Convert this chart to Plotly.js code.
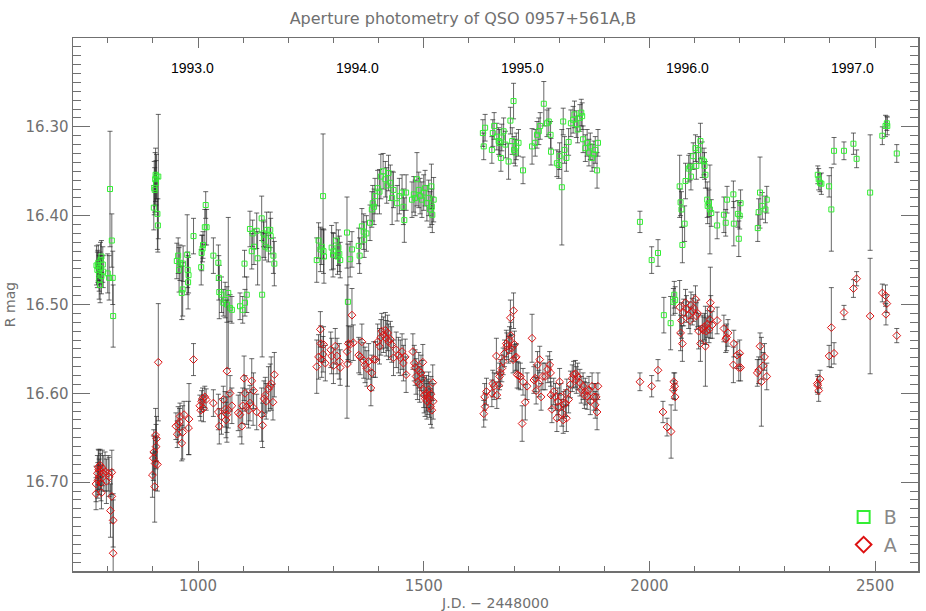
<!DOCTYPE html>
<html>
<head>
<meta charset="utf-8">
<script src="https://cdn.plot.ly/plotly-3.0.1.min.js"></script>
<style>
  body { margin: 0; background: #fff; }
  #plot { width: 926px; height: 611px; }
</style>
</head>
<body>
<div id="plot"></div>
<script>
// Image B: J.D. - 2448000, R mag, error
const bJd = [
  775, 777, 778, 779, 781, 781, 783, 783, 784, 786, 786, 789, 790, 800, 803, 805, 809, 811, 812,
  902, 903, 904, 905, 906, 907, 908, 910, 911, 912,
  953, 956, 958, 960, 964, 966, 967, 976, 977, 979, 978, 990, 1007, 1008, 1010, 1011, 1015, 1017, 1019,
  1034, 1045, 1046, 1047, 1052, 1056, 1060, 1064, 1067, 1071, 1075, 1093, 1099, 1104, 1103, 1108,
  1115, 1119, 1121, 1124, 1130, 1132, 1141, 1142, 1145, 1146, 1149, 1152, 1156, 1160, 1161, 1167, 1169,
  1263, 1267, 1271, 1274, 1277, 1278, 1279, 1296, 1299, 1300, 1306, 1309, 1311, 1313, 1315, 1330, 1332,
  1337, 1341, 1356, 1358, 1363, 1367, 1368, 1373, 1381, 1385, 1387, 1390, 1392, 1398, 1402, 1405, 1410,
  1415, 1418, 1422, 1426, 1430, 1433, 1441, 1446, 1452, 1455, 1457, 1461, 1474, 1478, 1481, 1485, 1489,
  1492, 1496, 1500, 1503, 1507, 1511, 1514, 1517, 1518, 1522, 1519,
  1631, 1633, 1636, 1651, 1653, 1656, 1662, 1666, 1668, 1671, 1673, 1677, 1681, 1688, 1692, 1696, 1699,
  1700, 1703, 1705, 1710, 1720, 1740, 1747, 1751, 1755, 1758, 1766, 1773, 1777, 1781, 1782, 1795, 1799,
  1801, 1806, 1809, 1812, 1816, 1821, 1826, 1831, 1834, 1838, 1841, 1846, 1849, 1851, 1853, 1858, 1862,
  1866, 1869, 1873, 1877, 1880, 1884, 1886,
  1979, 2005, 2019, 2032, 2047, 2053, 2055, 2057, 2067, 2069, 2071, 2073, 2078, 2080, 2087, 2090, 2092,
  2097, 2102, 2104, 2109, 2113, 2117, 2121, 2122, 2124, 2128, 2129, 2132, 2134, 2137, 2150, 2165, 2169,
  2172, 2186, 2187, 2196, 2200, 2198, 2202, 2240, 2242, 2245, 2250, 2257, 2260,
  2373, 2375, 2378, 2381, 2398, 2403, 2409, 2431, 2452, 2459, 2489, 2516, 2523, 2526, 2527, 2548
];
const bMag = [
  16.456, 16.461, 16.457, 16.453, 16.465, 16.472, 16.459, 16.478, 16.450, 16.446, 16.468, 16.455, 16.463, 16.465, 16.470, 16.370, 16.428, 16.470, 16.513,
  16.391, 16.369, 16.371, 16.359, 16.354, 16.363, 16.356, 16.398, 16.411, 16.356,
  16.451, 16.445, 16.461, 16.453, 16.487, 16.483, 16.454, 16.444, 16.461, 16.467, 16.475, 16.423, 16.458, 16.442, 16.437, 16.433, 16.413, 16.388, 16.413,
  16.445, 16.453, 16.470, 16.486, 16.489, 16.498, 16.495, 16.500, 16.487, 16.504, 16.506, 16.502, 16.506, 16.498, 16.454, 16.489,
  16.415, 16.440, 16.420, 16.435, 16.417, 16.448, 16.403, 16.489, 16.420, 16.427, 16.435, 16.416, 16.437, 16.416, 16.423, 16.445, 16.454,
  16.450, 16.428, 16.438, 16.435, 16.378, 16.440, 16.446, 16.436, 16.444, 16.440, 16.428, 16.446, 16.436, 16.443, 16.450, 16.419, 16.497,
  16.449, 16.438, 16.434, 16.445, 16.412, 16.418, 16.427, 16.420, 16.408, 16.393, 16.386, 16.390, 16.378, 16.369, 16.373, 16.356, 16.350,
  16.359, 16.366, 16.352, 16.363, 16.380, 16.371, 16.386, 16.378, 16.374, 16.390, 16.405, 16.374, 16.382, 16.376, 16.380, 16.359, 16.371,
  16.378, 16.382, 16.374, 16.369, 16.386, 16.380, 16.393, 16.367, 16.390, 16.382, 16.399,
  16.307, 16.322, 16.301, 16.326, 16.307, 16.299, 16.311, 16.316, 16.318, 16.335, 16.312, 16.305, 16.320, 16.339, 16.293, 16.316, 16.271,
  16.326, 16.329, 16.322, 16.318, 16.349, 16.322, 16.318, 16.309, 16.305, 16.299, 16.274, 16.296, 16.294, 16.309, 16.328, 16.341, 16.343,
  16.333, 16.368, 16.294, 16.326, 16.335, 16.317, 16.296, 16.292, 16.286, 16.297, 16.303, 16.290, 16.284, 16.288, 16.314, 16.324, 16.318,
  16.329, 16.322, 16.335, 16.331, 16.326, 16.349, 16.318,
  16.407, 16.450, 16.442, 16.512, 16.521, 16.497, 16.489, 16.495, 16.367, 16.385, 16.393, 16.433, 16.409, 16.361, 16.347, 16.345, 16.356,
  16.333, 16.324, 16.344, 16.326, 16.316, 16.337, 16.339, 16.344, 16.354, 16.382, 16.389, 16.386, 16.393, 16.397, 16.411, 16.399, 16.408,
  16.382, 16.376, 16.409, 16.398, 16.400, 16.426, 16.386, 16.414, 16.396, 16.374, 16.389, 16.393, 16.382,
  16.354, 16.359, 16.363, 16.364, 16.367, 16.393, 16.327, 16.327, 16.319, 16.336, 16.374, 16.310, 16.299, 16.296, 16.299, 16.330
];
const bErr = [
  0.022, 0.020, 0.018, 0.020, 0.020, 0.022, 0.018, 0.020, 0.020, 0.018, 0.020, 0.020, 0.018, 0.022, 0.025, 0.065, 0.030, 0.030, 0.035,
  0.025, 0.030, 0.025, 0.030, 0.030, 0.025, 0.025, 0.040, 0.030, 0.070,
  0.020, 0.020, 0.025, 0.020, 0.030, 0.030, 0.020, 0.045, 0.020, 0.020, 0.030, 0.020, 0.020, 0.020, 0.015, 0.015, 0.020, 0.015, 0.020,
  0.020, 0.020, 0.025, 0.030, 0.020, 0.015, 0.020, 0.020, 0.085, 0.015, 0.015, 0.015, 0.015, 0.015, 0.015, 0.020,
  0.020, 0.020, 0.015, 0.020, 0.020, 0.030, 0.025, 0.070, 0.015, 0.020, 0.015, 0.020, 0.015, 0.020, 0.020, 0.020, 0.025,
  0.025, 0.020, 0.025, 0.020, 0.070, 0.025, 0.030, 0.025, 0.025, 0.020, 0.020, 0.020, 0.020, 0.020, 0.020, 0.040, 0.065,
  0.020, 0.020, 0.020, 0.020, 0.020, 0.020, 0.020, 0.020, 0.020, 0.020, 0.020, 0.020, 0.020, 0.020, 0.025, 0.025, 0.020,
  0.020, 0.020, 0.020, 0.020, 0.030, 0.020, 0.020, 0.020, 0.020, 0.020, 0.025, 0.020, 0.020, 0.020, 0.020, 0.030, 0.020,
  0.020, 0.020, 0.020, 0.020, 0.020, 0.020, 0.020, 0.025, 0.020, 0.025, 0.020,
  0.015, 0.015, 0.015, 0.015, 0.015, 0.015, 0.015, 0.015, 0.015, 0.015, 0.015, 0.015, 0.015, 0.020, 0.015, 0.015, 0.020,
  0.015, 0.015, 0.015, 0.015, 0.015, 0.020, 0.015, 0.015, 0.015, 0.015, 0.025, 0.015, 0.015, 0.015, 0.015, 0.015, 0.015,
  0.015, 0.065, 0.015, 0.015, 0.015, 0.015, 0.015, 0.015, 0.015, 0.015, 0.015, 0.015, 0.015, 0.015, 0.015, 0.015, 0.015,
  0.015, 0.015, 0.015, 0.015, 0.015, 0.020, 0.015,
  0.012, 0.015, 0.015, 0.020, 0.030, 0.015, 0.015, 0.015, 0.035, 0.015, 0.020, 0.020, 0.020, 0.020, 0.015, 0.015, 0.015,
  0.015, 0.015, 0.015, 0.015, 0.020, 0.020, 0.015, 0.015, 0.015, 0.020, 0.020, 0.015, 0.050, 0.015, 0.015, 0.020, 0.015,
  0.015, 0.015, 0.025, 0.015, 0.015, 0.020, 0.015, 0.015, 0.015, 0.040, 0.015, 0.015, 0.015,
  0.010, 0.012, 0.010, 0.012, 0.012, 0.047, 0.015, 0.010, 0.012, 0.010, 0.065, 0.010, 0.012, 0.008, 0.010, 0.010
];

// Image A
const aJd = [
  774, 774, 777, 778, 779, 780, 781, 783, 784, 785, 786, 788, 790, 794, 797, 801, 803, 806, 809, 809, 812, 812,
  899, 901, 902, 905, 906, 907, 908, 910, 904, 912,
  951, 954, 956, 959, 960, 964, 966, 969, 979, 980, 990, 1004, 1006, 1008, 1010, 1012, 1015, 1018,
  1034, 1045, 1047, 1052, 1056, 1060, 1062, 1064, 1064, 1067, 1071, 1075, 1089, 1093, 1097, 1099, 1102,
  1104, 1108, 1112, 1115, 1119, 1123, 1122, 1130, 1141, 1143, 1146, 1149, 1151, 1156, 1160, 1162, 1166, 1169,
  1263, 1267, 1271, 1272, 1274, 1277, 1278, 1282, 1294, 1296, 1300, 1304, 1308, 1313, 1315, 1330, 1331,
  1333, 1337, 1341, 1344, 1356, 1359, 1363, 1367, 1370, 1374, 1378, 1383, 1385, 1389, 1393, 1398, 1402,
  1405, 1407, 1411, 1415, 1417, 1420, 1422, 1426, 1429, 1433, 1439, 1444, 1448, 1452, 1455, 1459, 1461,
  1476, 1479, 1481, 1483, 1486, 1489, 1491, 1494, 1496, 1498, 1500, 1501, 1503, 1506, 1507, 1509, 1511,
  1513, 1515, 1516, 1518, 1520, 1521,
  1633, 1635, 1636, 1639, 1651, 1653, 1656, 1661, 1662, 1666, 1668, 1670, 1673, 1676, 1679, 1683, 1684,
  1688, 1690, 1692, 1693, 1695, 1698, 1699, 1701, 1703, 1705, 1707, 1710, 1714, 1720, 1725, 1718, 1729,
  1740, 1744, 1747, 1749, 1752, 1755, 1757, 1760, 1764, 1769, 1775, 1779, 1781, 1782, 1784, 1788, 1792,
  1795, 1797, 1799, 1801, 1804, 1806, 1809, 1810, 1814, 1816, 1817, 1821, 1825, 1829, 1832, 1836, 1838,
  1841, 1846, 1849, 1853, 1856, 1858, 1862, 1866, 1869, 1873, 1877, 1880, 1884, 1886, 1882,
  1979, 2005, 2019, 2030, 2039, 2048, 2053, 2054, 2056, 2057, 2067, 2069, 2071, 2073, 2076, 2080, 2082,
  2087, 2090, 2092, 2095, 2098, 2102, 2104, 2107, 2109, 2113, 2117, 2119, 2122, 2124, 2126, 2129, 2132,
  2134, 2135, 2136, 2139, 2150, 2165, 2169, 2171, 2174, 2186, 2187, 2194, 2198, 2200, 2202, 2239, 2242,
  2245, 2248, 2252, 2255, 2260,
  2372, 2373, 2375, 2378, 2398, 2403, 2409, 2431, 2452, 2459, 2489, 2516, 2523, 2526, 2524, 2548
];
const aMag = [
  16.702, 16.713, 16.690, 16.698, 16.683, 16.686, 16.694, 16.681, 16.688, 16.701, 16.712, 16.684, 16.690, 16.688, 16.699, 16.690, 16.694, 16.732, 16.689, 16.716, 16.743, 16.780,
  16.692, 16.673, 16.666, 16.679, 16.647, 16.660, 16.651, 16.680, 16.705, 16.565,
  16.637, 16.646, 16.635, 16.632, 16.626, 16.656, 16.644, 16.624, 16.639, 16.629, 16.562, 16.614, 16.619, 16.609, 16.606, 16.617, 16.604, 16.607,
  16.611, 16.621, 16.637, 16.626, 16.607, 16.618, 16.630, 16.624, 16.575, 16.619, 16.600, 16.614, 16.622, 16.624, 16.637, 16.614, 16.583,
  16.600, 16.615, 16.619, 16.611, 16.586, 16.597, 16.616, 16.621, 16.624, 16.636, 16.606, 16.602, 16.609, 16.595, 16.592, 16.589, 16.610, 16.579,
  16.570, 16.559, 16.528, 16.544, 16.562, 16.556, 16.545, 16.566, 16.551, 16.558, 16.569, 16.547, 16.558, 16.564, 16.571, 16.553, 16.567,
  16.544, 16.545, 16.512, 16.543, 16.557, 16.559, 16.542, 16.563, 16.568, 16.572, 16.564, 16.594, 16.577, 16.562, 16.562, 16.542, 16.547,
  16.537, 16.530, 16.534, 16.529, 16.538, 16.532, 16.542, 16.539, 16.545, 16.560, 16.551, 16.557, 16.560, 16.553, 16.566, 16.559, 16.579,
  16.553, 16.566, 16.571, 16.581, 16.587, 16.574, 16.590, 16.577, 16.583, 16.565, 16.596, 16.602, 16.606, 16.600, 16.609, 16.604, 16.596,
  16.607, 16.615, 16.601, 16.619, 16.588, 16.609,
  16.623, 16.604, 16.615, 16.598, 16.600, 16.589, 16.592, 16.558, 16.602, 16.591, 16.581, 16.577, 16.572, 16.564, 16.555, 16.544, 16.547,
  16.551, 16.540, 16.515, 16.535, 16.549, 16.562, 16.507, 16.545, 16.560, 16.559, 16.579, 16.580, 16.581, 16.587, 16.610, 16.634, 16.592,
  16.538, 16.585, 16.583, 16.597, 16.568, 16.589, 16.562, 16.604, 16.581, 16.581, 16.573, 16.568, 16.577, 16.602, 16.618, 16.598, 16.604,
  16.628, 16.609, 16.615, 16.587, 16.604, 16.622, 16.630, 16.613, 16.611, 16.628, 16.599, 16.607, 16.590, 16.583, 16.579, 16.578, 16.585,
  16.581, 16.588, 16.596, 16.592, 16.602, 16.598, 16.603, 16.596, 16.609, 16.592, 16.604, 16.613, 16.621, 16.592, 16.604,
  16.587, 16.592, 16.574, 16.621, 16.638, 16.643, 16.596, 16.587, 16.592, 16.604, 16.503, 16.532, 16.518, 16.544, 16.509, 16.498, 16.505,
  16.512, 16.518, 16.501, 16.508, 16.504, 16.494, 16.513, 16.510, 16.530, 16.544, 16.527, 16.529, 16.525, 16.547, 16.530, 16.522, 16.528,
  16.517, 16.498, 16.505, 16.523, 16.518, 16.527, 16.539, 16.537, 16.532, 16.568, 16.544, 16.557, 16.571, 16.555, 16.571, 16.577, 16.574,
  16.547, 16.587, 16.569, 16.559, 16.581,
  16.589, 16.591, 16.597, 16.584, 16.558, 16.526, 16.555, 16.509, 16.482, 16.471, 16.513, 16.487, 16.490, 16.499, 16.511, 16.535
];
const aErr = [
  0.020, 0.018, 0.020, 0.020, 0.020, 0.022, 0.020, 0.018, 0.020, 0.020, 0.018, 0.020, 0.020, 0.022, 0.025, 0.020, 0.022, 0.030, 0.025, 0.030, 0.030, 0.060,
  0.025, 0.025, 0.025, 0.030, 0.030, 0.025, 0.025, 0.030, 0.040, 0.066,
  0.015, 0.015, 0.020, 0.015, 0.015, 0.020, 0.030, 0.015, 0.030, 0.040, 0.018, 0.012, 0.012, 0.012, 0.012, 0.015, 0.012, 0.012,
  0.015, 0.020, 0.020, 0.020, 0.015, 0.020, 0.020, 0.020, 0.080, 0.020, 0.020, 0.020, 0.020, 0.025, 0.020, 0.020, 0.025,
  0.020, 0.020, 0.020, 0.020, 0.025, 0.020, 0.020, 0.020, 0.030, 0.025, 0.020, 0.020, 0.020, 0.025, 0.025, 0.030, 0.020, 0.025,
  0.030, 0.025, 0.020, 0.020, 0.020, 0.020, 0.020, 0.020, 0.020, 0.020, 0.020, 0.020, 0.020, 0.020, 0.020, 0.075, 0.025,
  0.020, 0.020, 0.030, 0.020, 0.020, 0.020, 0.020, 0.020, 0.020, 0.020, 0.020, 0.020, 0.020, 0.020, 0.020, 0.020, 0.020,
  0.020, 0.020, 0.020, 0.020, 0.020, 0.020, 0.020, 0.020, 0.020, 0.020, 0.020, 0.020, 0.020, 0.020, 0.020, 0.020, 0.020,
  0.020, 0.020, 0.020, 0.020, 0.020, 0.020, 0.020, 0.020, 0.020, 0.020, 0.020, 0.020, 0.020, 0.020, 0.020, 0.020, 0.020,
  0.020, 0.020, 0.020, 0.020, 0.020, 0.020,
  0.015, 0.015, 0.015, 0.015, 0.015, 0.015, 0.015, 0.020, 0.015, 0.015, 0.015, 0.015, 0.015, 0.015, 0.015, 0.015, 0.015,
  0.015, 0.015, 0.020, 0.015, 0.015, 0.015, 0.020, 0.015, 0.015, 0.015, 0.015, 0.015, 0.015, 0.015, 0.020, 0.020, 0.015,
  0.027, 0.015, 0.015, 0.015, 0.015, 0.015, 0.015, 0.015, 0.015, 0.015, 0.015, 0.015, 0.015, 0.015, 0.015, 0.015, 0.015,
  0.015, 0.015, 0.015, 0.015, 0.015, 0.015, 0.015, 0.015, 0.015, 0.015, 0.015, 0.015, 0.015, 0.015, 0.015, 0.015, 0.015,
  0.015, 0.015, 0.015, 0.015, 0.015, 0.015, 0.015, 0.015, 0.015, 0.015, 0.015, 0.015, 0.020, 0.015, 0.015,
  0.010, 0.012, 0.012, 0.012, 0.010, 0.030, 0.010, 0.010, 0.015, 0.015, 0.030, 0.020, 0.020, 0.020, 0.015, 0.015, 0.015,
  0.015, 0.015, 0.015, 0.015, 0.015, 0.015, 0.015, 0.015, 0.020, 0.020, 0.015, 0.015, 0.015, 0.045, 0.015, 0.015, 0.015,
  0.015, 0.040, 0.015, 0.015, 0.015, 0.015, 0.015, 0.015, 0.015, 0.020, 0.015, 0.015, 0.015, 0.015, 0.015, 0.015, 0.015,
  0.015, 0.050, 0.015, 0.015, 0.015,
  0.010, 0.010, 0.012, 0.010, 0.012, 0.045, 0.012, 0.008, 0.010, 0.008, 0.065, 0.010, 0.012, 0.010, 0.012, 0.008
];

// year markers along the top
const yearLabels = ['1993.0', '1994.0', '1995.0', '1996.0', '1997.0'];
const yearJd = [988.5, 1353.5, 1718.5, 2083.5, 2449.5];

const grey = '#707070';
const barStyle = { type: 'data', visible: true, color: 'rgba(40,40,40,0.7)', thickness: 1, width: 2.5 };

const traceB = {
  x: bJd, y: bMag, type: 'scatter', mode: 'markers', name: 'B',
  error_y: Object.assign({ array: bErr }, barStyle),
  marker: { symbol: 'square-open', size: 5, color: '#33ee33', line: { width: 1 } }
};
const traceA = {
  x: aJd, y: aMag, type: 'scatter', mode: 'markers', name: 'A',
  error_y: Object.assign({ array: aErr }, barStyle),
  marker: { symbol: 'diamond-open', size: 6, color: '#dd1111', line: { width: 1 } }
};

const tickFont = { family: 'DejaVu Sans, sans-serif', size: 15, color: grey };

const layout = {
  width: 926, height: 611,
  margin: { l: 73, r: 8, t: 38, b: 40 },
  paper_bgcolor: '#fff', plot_bgcolor: '#fff',
  showlegend: true,
  legend: {
    x: 0.912, y: 0.013, xanchor: 'left', yanchor: 'bottom',
    bgcolor: 'rgba(0,0,0,0)', font: { family: 'DejaVu Sans, sans-serif', size: 19, color: '#888' },
    itemwidth: 30, itemsizing: 'constant'
  },
  title: {
    text: 'Aperture photometry of QSO 0957+561A,B',
    x: 0.5, xanchor: 'center', y: 0.97, yanchor: 'middle',
    font: { family: 'DejaVu Sans, sans-serif', size: 16, color: grey }
  },
  xaxis: {
    range: [723, 2595], autorange: false,
    tickvals: [1000, 1500, 2000, 2500],
    ticks: 'inside', ticklen: 10, tickcolor: grey, tickwidth: 1,
    minor: { dtick: 100, tick0: 0, ticks: 'inside', ticklen: 5, tickcolor: grey },
    showline: true, linecolor: grey, linewidth: 1.5, mirror: 'allticks',
    showgrid: false, zeroline: false,
    tickfont: tickFont,
    title: { text: 'J.D. \u2212 2448000', font: { family: 'DejaVu Sans, sans-serif', size: 14, color: grey }, standoff: 4 }
  },
  yaxis: {
    range: [16.80, 16.20], autorange: false,
    tickvals: [16.3, 16.4, 16.5, 16.6, 16.7], tickformat: '.2f',
    ticks: 'inside', ticklen: 17, tickcolor: grey, tickwidth: 1,
    minor: { dtick: 0.01, tick0: 16.2, ticks: 'inside', ticklen: 8, tickcolor: grey },
    showline: true, linecolor: grey, linewidth: 1.5, mirror: 'allticks',
    showgrid: false, zeroline: false,
    tickfont: tickFont,
    title: { text: 'R mag', font: { family: 'DejaVu Sans, sans-serif', size: 14, color: grey }, standoff: 6 }
  },
  annotations: yearLabels.map((t, i) => ({
    x: yearJd[i], y: 0.962, xref: 'x', yref: 'paper',
    text: t, showarrow: false,
    font: { family: 'Liberation Sans, Arial, sans-serif', size: 14, color: '#000' }
  })),
  hovermode: false
};

Plotly.newPlot('plot', [traceB, traceA], layout, { displayModeBar: false, staticPlot: true });
</script>
</body>
</html>
